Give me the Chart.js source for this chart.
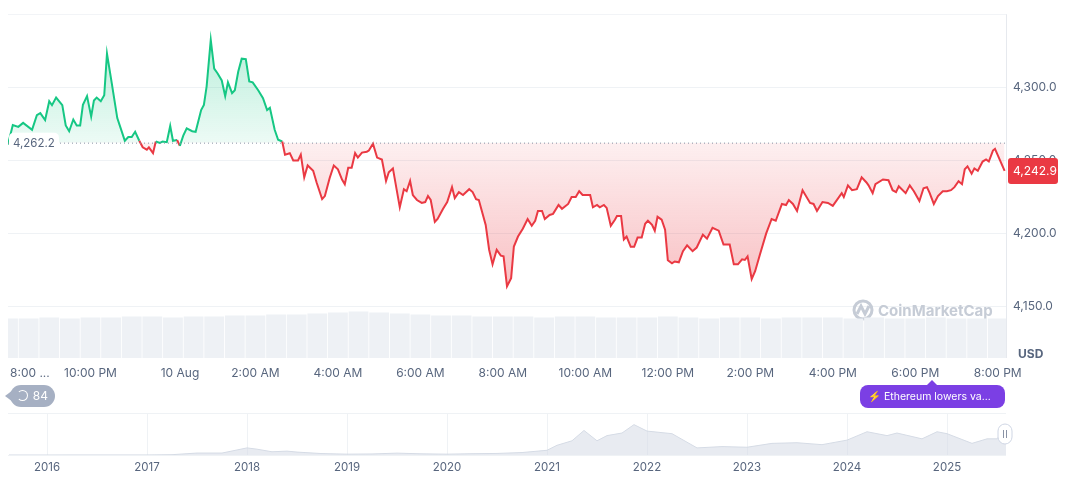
<!DOCTYPE html>
<html><head><meta charset="utf-8">
<script src="https://cdn.jsdelivr.net/npm/chart.js@4.4.0/dist/chart.umd.min.js"></script>
<style>
body{margin:0;background:#fff;width:1072px;height:477px;overflow:hidden;font-family:Inter,sans-serif;position:relative}
#main{position:absolute;left:0;top:0}
#nav{position:absolute;left:0;top:400px}
.lbl{position:absolute;font:12px Inter,sans-serif;color:#58667e;white-space:nowrap}
</style></head><body>
<canvas id="main" width="1072" height="385"></canvas>
<canvas id="nav" width="1072" height="77"></canvas>
<div class="lbl" style="left:1018px;top:346px;font-weight:700">USD</div>
<div style="position:absolute;left:10px;top:385px;width:45px;height:22px;background:#a6b0c3;border-radius:11px;color:#fff;font:12px Inter;line-height:22px;text-align:right;box-sizing:border-box;padding-right:7px">84</div>
<div style="position:absolute;left:5px;top:390px;width:0;height:0;border-top:6px solid transparent;border-bottom:6px solid transparent;border-right:8px solid #a6b0c3"></div>
<div style="position:absolute;left:17px;top:390px;width:9px;height:9px;border:1.5px solid #fff;border-radius:50%;border-left-color:transparent"></div>
<div style="position:absolute;left:860px;top:385px;width:145px;height:23px;background:#7b3fe4;border-radius:8px;color:#fff;font:10.5px Inter;line-height:23px;padding-left:8px;box-sizing:border-box;white-space:nowrap;overflow:hidden">⚡&nbsp;Ethereum lowers va...</div>
<div style="position:absolute;left:927px;top:380px;width:0;height:0;border-left:5px solid transparent;border-right:5px solid transparent;border-bottom:5px solid #7b3fe4"></div>
<script>
const times=[0,7,15,22,35,42,47,54,60,64,70,79,84,89,95,100,105,109,115,121,125,129,135,140,144,151,159,164,170,175,180,185,191,196,202,205,211,215,221,225,231,236,240,246,250,255,260,268,273,281,285,289,295,300,305,311,316,320,326,330,335,340,346,351,356,364,371,377,381,388,393,399,403,410,415,422,426,431,436,444,449,457,461,468,474,480,486,490,495,500,505,509,515,522,525,531,537,544,550,554,560,570,576,580,585,589,595,602,607,611,615,621,625,633,639,646,650,656,662,671,676,681,685,695,700,705,711,717,721,726,732,736,742,749,756,762,767,771,777,781,788,793,801,806,815,820,826,831,836,847,851,857,861,867,871,877,883,886,892,896,900,906,911,916,922,927,931,937,941,945,951,956,960,966,970,976,982,988,996,1002,1011,1017,1025,1034,1041,1050,1056,1062,1068,1072,1076,1082,1087,1094,1103,1111,1117,1126,1132,1136,1142,1148,1156,1167,1172,1177,1185,1193,1200,1213,1216,1222,1228,1235,1242,1249,1252,1258,1262,1273,1281,1287,1292,1296,1306,1312,1318,1326,1332,1337,1341,1347,1353,1360,1366,1372,1377,1383,1388,1392,1396,1402,1406,1411,1418,1423,1427,1433,1436,1450];
const prices=[4261.0,4274.3,4273,4275.7,4271,4281,4282.4,4277.7,4290.5,4287.8,4293,4287.8,4274,4270,4278,4274,4274,4288,4294,4280,4291,4293,4290.5,4294.6,4323,4302.7,4279,4272,4263.5,4266,4266,4269.6,4263.5,4259,4257.4,4259,4255,4263,4262,4263,4262.5,4273.6,4263.5,4264,4260,4267,4272,4270,4269.6,4284.5,4288,4300.7,4332.4,4312.8,4309.5,4304.7,4294,4303.4,4296,4298,4310.8,4319.6,4319.3,4304,4303.4,4298,4292.6,4284.5,4286,4271,4264.2,4263,4254,4255,4250,4250,4254,4238.5,4246.6,4243,4235,4223.6,4225.7,4238,4246.6,4244,4237,4233.8,4245,4245,4255,4252,4255.4,4256,4256.8,4261.5,4252,4250.7,4236,4242,4244.6,4218,4230.4,4229,4236,4226.4,4223,4221,4221.6,4225.7,4223,4208,4210,4217,4221.6,4231.8,4224.3,4228.4,4226.4,4230.4,4228.4,4223.6,4223,4206,4189,4179,4189,4185,4184.5,4164,4169.6,4191.2,4198,4203.4,4210,4205.4,4208.8,4215.5,4215.5,4210,4212.8,4213.5,4219.6,4217,4220.3,4225,4225,4229,4226.4,4226.4,4218,4219.6,4218,4219.6,4217.6,4205.4,4209.5,4212,4212,4196,4198,4191,4191,4197.3,4197.3,4206.8,4208.8,4206,4202,4211.5,4209.5,4202.7,4181.8,4179.7,4181,4180.4,4188,4192,4188,4190.5,4199.3,4196.6,4204,4202,4192.6,4192.6,4179,4179,4182.4,4182,4184.5,4169,4174.3,4185.8,4200,4210,4208.8,4220.3,4219.6,4223,4220.3,4215.5,4229.7,4221,4220.3,4215.5,4221.6,4221,4219,4227.7,4225,4233,4229.7,4230.4,4238.5,4235,4233,4227.7,4233.8,4237,4236.5,4229.7,4228.4,4232.4,4227.7,4233,4229,4222.3,4231,4231.8,4227.7,4220.3,4225.7,4229,4229,4229.7,4231.8,4235.8,4233.8,4244,4246,4241,4244.6,4243,4249.3,4250.7,4249.3,4256.8,4258,4242.9];
const baseline=4262.2;
const lastPrice=4242.9;
const xTickValues=[0,120,240,360,480,600,720,840,960,1080,1200,1320,1440];
const xTickLabels=['8:00 ...','10:00 PM','10 Aug','2:00 AM','4:00 AM','6:00 AM','8:00 AM','10:00 AM','12:00 PM','2:00 PM','4:00 PM','6:00 PM','8:00 PM'];
const yTicks=[4150,4200,4250,4300];
const volume=[40,40,41,40,41,41,42,42,41,42,42,43,43,44,44,45,46,47,46,45,44,43,43,42,42,42,41,42,42,41,41,41,42,41,40,41,41,40,41,41,41,40,41,40,40,41,40,40,40];
const navYears=[2015.62,2015.75,2016.0,2016.25,2016.5,2016.75,2017.0,2017.25,2017.5,2017.75,2018.0,2018.1,2018.25,2018.4,2018.5,2018.75,2019.0,2019.25,2019.5,2019.75,2020.0,2020.25,2020.5,2020.75,2021.0,2021.1,2021.25,2021.37,2021.5,2021.6,2021.75,2021.87,2022.0,2022.25,2022.5,2022.75,2023.0,2023.25,2023.5,2023.75,2024.0,2024.2,2024.4,2024.5,2024.75,2024.9,2025.0,2025.25,2025.4,2025.5,2025.59];
const navPrices=[1,1,1,10,12,12,9,50,300,300,1100,900,500,600,450,220,130,160,290,180,130,200,240,380,730,1500,2200,3800,2200,3000,3400,4700,3700,3300,1100,1300,1200,1800,1900,1600,2300,3600,3000,3400,2500,3600,3300,1800,2500,2500,4200];
const navTicks=[2016,2017,2018,2019,2020,2021,2022,2023,2024,2025];

const GREEN='#16c784',RED='#ea3943',TXT='#58667e',GRID='#eff2f5';
const fmt=v=>v.toLocaleString('en-US',{minimumFractionDigits:1,maximumFractionDigits:1});

const overlay={id:'overlay',
 afterLayout(c){const a=c.chartArea,y=c.scales.y,by=y.getPixelForValue(baseline);
  const g=c.ctx.createLinearGradient(0,a.top,0,by);g.addColorStop(0,'rgba(22,199,132,0.35)');g.addColorStop(1,'rgba(22,199,132,0.08)');
  const r=c.ctx.createLinearGradient(0,by,0,y.getPixelForValue(4170));r.addColorStop(0,'rgba(234,57,67,0.08)');r.addColorStop(1,'rgba(234,57,67,0.3)');
  const ds=c.data.datasets[0];ds.fill={target:{value:baseline},above:g,below:r};},
 beforeDatasetsDraw(c){const ctx=c.ctx;
  ctx.save();ctx.font='bold 15px Inter';ctx.fillStyle='#c6ccd6';ctx.textBaseline='middle';
  ctx.lineWidth=3;ctx.strokeStyle='#c6ccd6';ctx.beginPath();ctx.arc(863,310,9,0,Math.PI*2);ctx.stroke();
  ctx.beginPath();ctx.moveTo(857,314);ctx.lineTo(861,306);ctx.lineTo(865,314);ctx.lineTo(869,306);ctx.stroke();
  ctx.fillText('CoinMarketCap',878,311);ctx.restore();},
 afterDatasetsDraw(c){const ctx=c.ctx,a=c.chartArea,x=c.scales.x,y=c.scales.y;
  const by=y.getPixelForValue(baseline);
  ctx.save();ctx.strokeStyle='#8a93a6';ctx.lineWidth=1;ctx.setLineDash([1,3]);
  ctx.beginPath();ctx.moveTo(a.left,by+0.5);ctx.lineTo(a.right,by+0.5);ctx.stroke();ctx.setLineDash([]);
  ctx.fillStyle='#fff';ctx.beginPath();ctx.roundRect(9,by-10,50,20,5);ctx.fill();
  ctx.fillStyle=TXT;ctx.font='11.5px Inter';ctx.textBaseline='middle';ctx.textAlign='left';ctx.fillText(fmt(baseline),13,by+1);
  ctx.font='12px Inter';
  xTickValues.forEach((v,i)=>{const px=x.getPixelForValue(v);
    if(i===0){ctx.textAlign='left';ctx.fillText(xTickLabels[i],10,373);}
    else{ctx.textAlign='center';ctx.fillText(xTickLabels[i],px+(i===2?7:0),373);}});
  const py=y.getPixelForValue(lastPrice);
  ctx.fillStyle=RED;ctx.beginPath();ctx.roundRect(1008,py-13,50,26,3);ctx.fill();
  ctx.fillStyle='#fff';ctx.textAlign='left';ctx.font='12px Inter';ctx.fillText(fmt(lastPrice),1013,py+1);
  ctx.restore();}};

new Chart(document.getElementById('main'),{
 data:{datasets:[
  {type:'line',data:times.map((t,i)=>({x:t,y:prices[i]})),borderWidth:2,pointRadius:0,tension:0,order:1,
   borderColor:RED,segment:{borderColor:s=>(s.p0.parsed.y+s.p1.parsed.y)/2>=baseline?GREEN:RED},fill:{target:{value:baseline}}},
  {type:'bar',yAxisID:'yv',data:volume.map((v,i)=>({x:i*30,y:v})),backgroundColor:'#eef1f5',barPercentage:0.96,categoryPercentage:1,order:2}
 ]},
 options:{responsive:false,animation:false,events:[],
  layout:{padding:{left:8,top:10,right:0,bottom:0}},
  plugins:{legend:{display:false},tooltip:{enabled:false}},
  scales:{
   x:{type:'linear',offset:false,min:0,max:1452,grid:{display:false},border:{display:false},ticks:{display:false},afterFit(s){s.height=27;}},
   y:{position:'right',min:4115,max:4350,border:{display:false},
      grid:{color:c=>c.tick.value===4350?'#f2f4f7':GRID,drawTicks:false},
      afterBuildTicks(s){s.ticks=[4150,4200,4250,4300,4350].map(v=>({value:v}));},
      ticks:{color:TXT,font:{size:12,family:'Inter'},padding:7,callback:v=>yTicks.includes(v)?fmt(v):''},
      afterFit(s){s.width=66;}},
   yv:{display:false,min:0,max:348}
  }},
 plugins:[overlay,{id:'rb',afterDraw(c){const a=c.chartArea,ctx=c.ctx;ctx.save();ctx.strokeStyle='#e6e9ee';ctx.beginPath();ctx.moveTo(a.right+0.5,a.top);ctx.lineTo(a.right+0.5,a.bottom);ctx.stroke();ctx.restore();}}]
});

new Chart(document.getElementById('nav'),{
 type:'line',
 data:{datasets:[{data:navYears.map((t,i)=>({x:t,y:navPrices[i]})),borderColor:'#d5dbe5',borderWidth:1,pointRadius:0,fill:'origin',backgroundColor:'rgba(213,219,229,0.55)',tension:0}]},
 options:{responsive:false,animation:false,events:[],
  layout:{padding:{left:8,top:13,right:66,bottom:0}},
  plugins:{legend:{display:false},tooltip:{enabled:false}},
  scales:{
   x:{type:'linear',min:2015.61,max:2025.59,border:{display:false},
      afterBuildTicks(s){s.ticks=navTicks.map(v=>({value:v}));},
      grid:{color:GRID,drawTicks:false},ticks:{color:TXT,font:{size:11.5,family:'Inter'},padding:6,callback:v=>String(v)},afterFit(s){s.height=22;}},
   y:{display:false,min:0,max:6500}
  }},
 plugins:[{id:'nb',afterDraw(c){const a=c.chartArea,ctx=c.ctx;ctx.save();ctx.strokeStyle='#eff2f5';ctx.beginPath();ctx.moveTo(a.left,a.top+0.5);ctx.lineTo(a.right,a.top+0.5);ctx.moveTo(a.left,a.bottom+0.5);ctx.lineTo(a.right,a.bottom+0.5);ctx.stroke();
  ctx.fillStyle='#fff';ctx.strokeStyle='#cfd6e4';ctx.beginPath();ctx.roundRect(998,a.top+11,14,20,7);ctx.fill();ctx.stroke();
  ctx.strokeStyle='#8a93a6';ctx.beginPath();ctx.moveTo(1003.5,a.top+17);ctx.lineTo(1003.5,a.top+25);ctx.moveTo(1006.5,a.top+17);ctx.lineTo(1006.5,a.top+25);ctx.stroke();ctx.restore();}}]
});
</script></body></html>
